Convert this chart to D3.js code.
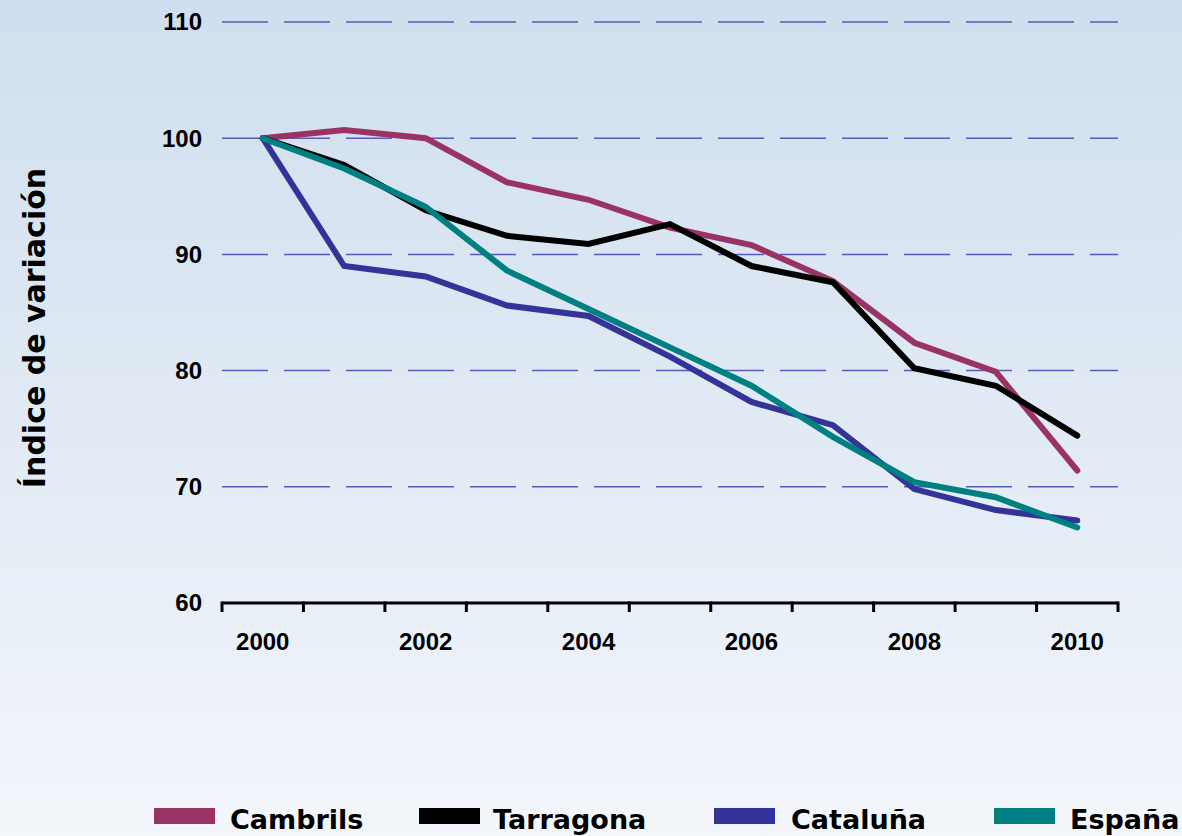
<!DOCTYPE html>
<html>
<head>
<meta charset="utf-8">
<script src="https://cdn.jsdelivr.net/npm/d3@7"></script>
<style>
  html, body { margin: 0; padding: 0; }
  body { width: 1182px; height: 836px; overflow: hidden; }
</style>
</head>
<body>
<svg id="chart" width="1182" height="836"></svg>
<script>
const years = ["2000","2001","2002","2003","2004","2005","2006","2007","2008","2009","2010"];
const yearLabels = ["2000","2002","2004","2006","2008","2010"];
const yTicks = [60, 70, 80, 90, 100, 110];
const seriesNames = ["Cambrils", "Tarragona", "Cataluña", "España"];
const seriesColors = ["#993366", "#000000", "#333399", "#008080"];
const cambrils  = [100, 100.7, 100.0, 96.2, 94.7, 92.3, 90.8, 87.7, 82.4, 79.9, 71.4];
const tarragona = [100, 97.7, 93.8, 91.6, 90.9, 92.6, 89.0, 87.6, 80.2, 78.7, 74.4];
const cataluna  = [100, 89.0, 88.1, 85.6, 84.7, 81.2, 77.3, 75.3, 69.8, 68.0, 67.1];
const espana    = [100, 97.4, 94.1, 88.6, 85.3, 82.0, 78.7, 74.3, 70.4, 69.1, 66.5];
const seriesValues = [cambrils, tarragona, cataluna, espana];

const svg = d3.select("#chart");
const defs = svg.append("defs");
const grad = defs.append("linearGradient").attr("id","bg").attr("x1",0).attr("y1",0).attr("x2",0).attr("y2",1);
grad.append("stop").attr("offset","0%").attr("stop-color","#cfdeee");
grad.append("stop").attr("offset","100%").attr("stop-color","#f3f6fb");
svg.append("rect").attr("width",1182).attr("height",836).attr("fill","url(#bg)");

const x = d3.scaleBand().domain(years).range([222, 1118]).paddingInner(0).paddingOuter(0);
const y = d3.scaleLinear().domain([60, 110]).range([603, 22]);

// gridlines
svg.append("g").selectAll("line").data(yTicks.filter(t => t > 60)).join("line")
  .attr("x1", 222).attr("x2", 1118)
  .attr("y1", d => y(d)).attr("y2", d => y(d))
  .attr("stroke", "#5a5ab8").attr("stroke-width", 1.5)
  .attr("stroke-dasharray", "46,16");

// y labels
svg.append("g").selectAll("text").data(yTicks).join("text")
  .attr("x", 202).attr("y", d => y(d)).attr("dy", "0.35em")
  .attr("text-anchor", "end")
  .style("font-family", "'Liberation Sans', Arial, sans-serif")
  .style("font-weight", "bold").style("font-size", "24px")
  .attr("fill", "#000").text(d => d);

// x axis
const xAxis = svg.append("g");
xAxis.append("line").attr("x1", 222).attr("x2", 1118).attr("y1", y(60)).attr("y2", y(60))
  .attr("stroke", "#000").attr("stroke-width", 3);
const tickPos = years.map(d => x(d)).concat([x(years[years.length-1]) + x.bandwidth()]);
xAxis.selectAll("line.tick").data(tickPos).join("line").attr("class","tick")
  .attr("x1", d => d).attr("x2", d => d)
  .attr("y1", y(60) - 1.5).attr("y2", y(60) + 9)
  .attr("stroke", "#000").attr("stroke-width", 3);
xAxis.selectAll("text").data(yearLabels).join("text")
  .attr("x", d => x(d) + x.bandwidth()/2).attr("y", 650)
  .attr("text-anchor", "middle")
  .style("font-family", "'Liberation Sans', Arial, sans-serif")
  .style("font-weight", "bold").style("font-size", "24px")
  .attr("fill", "#000").text(d => d);

// y title
svg.append("text")
  .attr("transform", "translate(45,328) rotate(-90)")
  .attr("text-anchor", "middle")
  .style("font-family", "'DejaVu Sans', sans-serif")
  .style("font-weight", "bold").style("font-size", "30px")
  .attr("fill", "#000").text("Índice de variación");

// lines
const line = d3.line().x((d, i) => x(years[i]) + x.bandwidth()/2).y(d => y(d));
svg.append("g").selectAll("path").data(seriesValues).join("path")
  .attr("d", d => line(d))
  .attr("fill", "none")
  .attr("stroke", (d, i) => seriesColors[i])
  .attr("stroke-width", 6)
  .attr("stroke-linejoin", "miter")
  .attr("stroke-linecap", "round");

// legend
const legendX = [154, 419, 714, 994];
const lg = svg.append("g").selectAll("g").data(seriesNames).join("g")
  .attr("transform", (d, i) => `translate(${legendX[i]},808)`);
lg.append("rect").attr("width", 61).attr("height", 16).attr("fill", (d, i) => seriesColors[i]);
lg.append("text").attr("x", (d, i) => [76, 74, 77, 76][i]).attr("y", 21)
  .style("font-family", "'DejaVu Sans', sans-serif")
  .style("font-weight", "bold").style("font-size", "27px")
  .attr("fill", "#000").text(d => d);
</script>
</body>
</html>
